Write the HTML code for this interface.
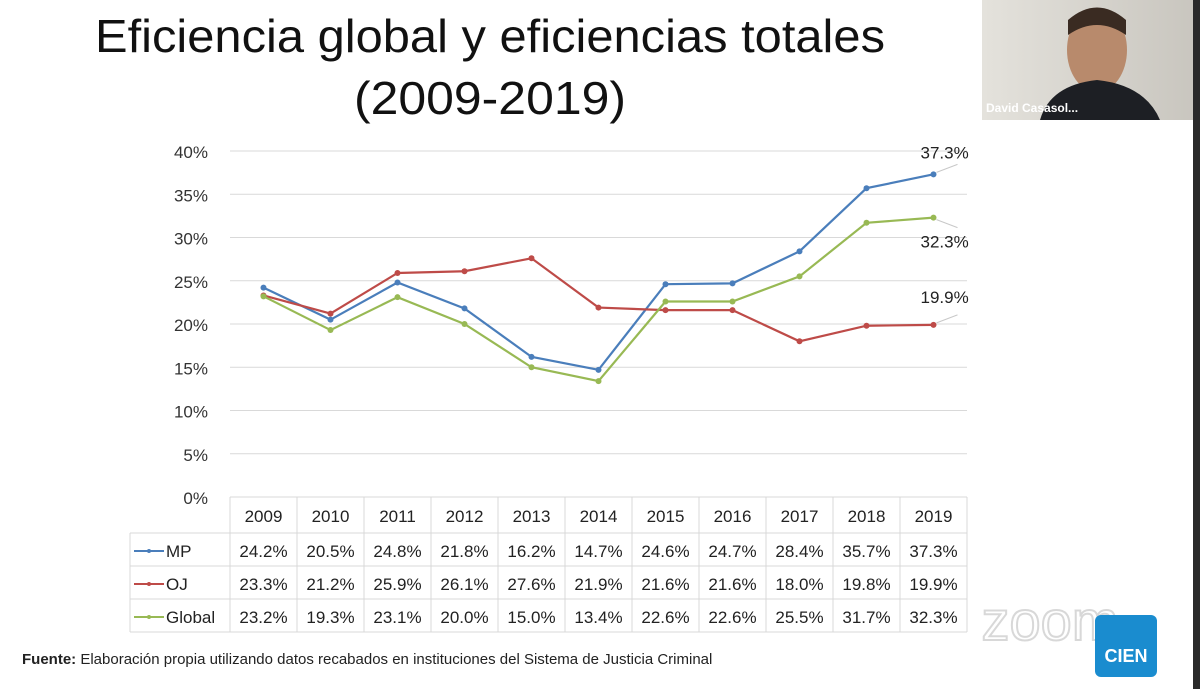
<!DOCTYPE html>
<html><head><meta charset="utf-8"><style>
body{margin:0;width:1200px;height:689px;overflow:hidden;background:#fff;font-family:"Liberation Sans",sans-serif}
svg{display:block}
</style></head><body>
<svg width="1200" height="689">
<rect x="0" y="0" width="1200" height="689" fill="#fff"/>
<rect x="1193" y="0" width="7" height="689" fill="#2a2a2a"/>
<text x="490" y="52" text-anchor="middle" font-size="46" fill="#111" textLength="790" lengthAdjust="spacingAndGlyphs">Eficiencia global y eficiencias totales</text>
<text x="490" y="114" text-anchor="middle" font-size="46" fill="#111" textLength="272" lengthAdjust="spacingAndGlyphs">(2009-2019)</text>
<g>
<defs><linearGradient id="wg" x1="0" x2="1"><stop offset="0" stop-color="#e4e2dc"/><stop offset="1" stop-color="#c9c6bf"/></linearGradient></defs>
<rect x="982" y="0" width="211" height="120" fill="url(#wg)"/>
<ellipse cx="1097" cy="50" rx="30" ry="42" fill="#b88a6c"/>
<path d="M1068 20 Q1097 -5 1126 20 L1126 35 Q1097 15 1068 35Z" fill="#3a2b22"/>
<path d="M1040 120 Q1050 85 1097 80 Q1145 85 1160 120Z" fill="#1d1f24"/>
<text x="986" y="112" font-size="12" font-weight="bold" fill="#fff">David Casasol...</text>
</g>
<g id="chart"></g>
<text x="22" y="664" font-size="15" fill="#222"><tspan font-weight="bold">Fuente:</tspan> Elaboración propia utilizando datos recabados en instituciones del Sistema de Justicia Criminal</text>
<text x="1050" y="640" text-anchor="middle" font-size="56" fill="none" stroke="#cfcfcf" stroke-width="2" opacity="0.8">zoom</text>
<g>
<rect x="1095" y="615" width="62" height="62" rx="6" fill="#1a8ccf"/>
<text x="1126" y="662" text-anchor="middle" font-size="18" font-weight="bold" fill="#fff">CIEN</text>
</g>
</svg>
<script>
const years=["2009","2010","2011","2012","2013","2014","2015","2016","2017","2018","2019"];
const mp=[24.2,20.5,24.8,21.8,16.2,14.7,24.6,24.7,28.4,35.7,37.3];
const oj=[23.3,21.2,25.9,26.1,27.6,21.9,21.6,21.6,18.0,19.8,19.9];
const glob=[23.2,19.3,23.1,20.0,15.0,13.4,22.6,22.6,25.5,31.7,32.3];
const yTicks=[0,5,10,15,20,25,30,35,40];
const NS="http://www.w3.org/2000/svg";
const g=document.getElementById('chart');
const x0=230,colW=67,yBase=497,yTop=151;
const X=i=>x0+colW*(i+0.5);
const Y=v=>yBase-(v/40)*(yBase-yTop);
function mk(t,a,p){const e=document.createElementNS(NS,t);for(const k in a)e.setAttribute(k,a[k]);(p||g).appendChild(e);return e;}
yTicks.forEach(t=>{
 const l=mk('line',{x1:x0,x2:x0+colW*years.length,y1:Y(t),y2:Y(t),stroke:'#d9d9d9','stroke-width':1});
 
 
 const tx=mk('text',{x:208,y:Y(t)+7,'text-anchor':'end','font-size':17,fill:'#333'});
 tx.textContent=t+'%';
 
 
});
const rowsY=[497,533,566,599,632];
const tg=mk('g',{});


for(let r=0;r<rowsY.length;r++){const xs=r==0?x0:130;mk('line',{x1:xs,x2:x0+colW*11,y1:rowsY[r],y2:rowsY[r],stroke:'#d9d9d9'},tg);}
for(let c=0;c<=11;c++)mk('line',{x1:x0+colW*c,x2:x0+colW*c,y1:497,y2:632,stroke:'#d9d9d9'},tg);
mk('line',{x1:130,x2:130,y1:533,y2:632,stroke:'#d9d9d9'},tg);
years.forEach((y,i)=>{const t=mk('text',{x:X(i),y:522,'text-anchor':'middle','font-size':17,fill:'#222'},tg);t.textContent=y;
 
 });
const series=[{n:'MP',d:mp,c:'#4a7ebb'},{n:'OJ',d:oj,c:'#be4b48'},{n:'Global',d:glob,c:'#98b954'}];
series.forEach((s,si)=>{
 const ry=rowsY[si+1]+24;
 mk('line',{x1:134,x2:164,y1:ry-6,y2:ry-6,stroke:s.c,'stroke-width':2},tg);
 mk('circle',{cx:149,cy:ry-6,r:2,fill:s.c},tg);
 const lt=mk('text',{x:166,y:ry,'font-size':17,fill:'#222'},tg);lt.textContent=s.n;
 
 
 s.d.forEach((v,i)=>{const t=mk('text',{x:X(i),y:ry,'text-anchor':'middle','font-size':17,fill:'#222'},tg);t.textContent=v.toFixed(1)+'%';});
 const pts=s.d.map((v,i)=>X(i)+','+Y(v)).join(' ');
 const pl=mk('polyline',{points:pts,fill:'none',stroke:s.c,'stroke-width':2.2});
 
 
 s.d.forEach((v,i)=>{const c=mk('circle',{cx:X(i),cy:Y(v),r:3,fill:s.c});
  
  });
});
const last=years.length-1;
const endOff=[-16,-22,30];
series.forEach((s,si)=>{
 const v=s.d[last];const py=Y(v);const ly=py+endOff[si];
 const up=endOff[si]<0;
 mk('line',{x1:X(last)+3,y1:py+(up?-2:2),x2:X(last)+24,y2:up?py-10:py+10,stroke:'#c8c8c8'});
 const t=mk('text',{x:X(last)-13,y:ly,'font-size':17,fill:'#222'});t.textContent=v.toFixed(1)+'%';
 
 
});
</script>
</body></html>
